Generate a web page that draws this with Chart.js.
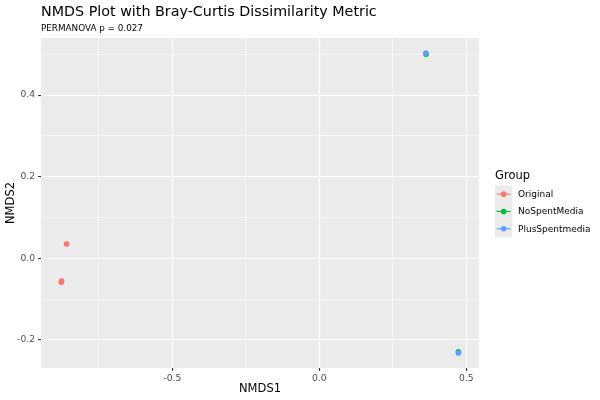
<!DOCTYPE html>
<html lang="en">
<head>
    <meta charset="UTF-8">
    <title>NMDS Plot</title>
    <script src="https://cdn.jsdelivr.net/npm/chart.js@4.4.0/dist/chart.umd.min.js"></script>
    <style>
      body { margin: 0; background: #fff; }
      .chart-container { position: relative; width: 600px; height: 400px; }
    </style>
    <script>
      // values
      const groups = ['Original', 'NoSpentMedia', 'PlusSpentmedia']
      const groupColors = ['#F8766D', '#00BA38', '#619CFF']
      const originalX = [-0.860, -0.877, -0.878]
      const originalY = [0.035, -0.056, -0.059]
      const noSpentX = [0.363, 0.473]
      const noSpentY = [0.500, -0.229]
      const plusSpentX = [0.362, 0.473]
      const plusSpentY = [0.503, -0.232]

      const xGrid = [-0.75, -0.5, -0.25, 0, 0.25, 0.5]
      const xLabels = [-0.5, 0, 0.5]
      const yGrid = [-0.2, -0.1, 0, 0.1, 0.2, 0.3, 0.4, 0.5]
      const yLabels = [-0.2, 0, 0.2, 0.4]

      const titleText = 'NMDS Plot with Bray-Curtis Dissimilarity Metric'
      const subtitleText = 'PERMANOVA p = 0.027'
      const xTitle = 'NMDS1'
      const yTitle = 'NMDS2'
      const legendTitle = 'Group'

      const FONT = '"DejaVu Sans", sans-serif'

      const isLabel = (list, v) => list.some(l => Math.abs(l - v) < 1e-9)

      const toPoints = (xs, ys) => xs.map((x, i) => ({ x: x, y: ys[i] }))

      window.onload = function() {
        const ctx = document.getElementById('chart').getContext('2d')

        const series = [
          toPoints(originalX, originalY),
          toPoints(noSpentX, noSpentY),
          toPoints(plusSpentX, plusSpentY)
        ]

        const datasets = groups.map((g, i) => ({
          label: g,
          data: series[i],
          backgroundColor: groupColors[i],
          borderWidth: 0,
          pointRadius: 2.8,
          order: groups.length - i
        }))

        // grey panel behind the points
        const panel = {
          id: 'panel',
          beforeDraw(chart) {
            const { ctx, chartArea: a } = chart
            ctx.save()
            ctx.fillStyle = '#fff'
            ctx.fillRect(0, 0, chart.width, chart.height)
            ctx.fillStyle = '#EBEBEB'
            ctx.fillRect(a.left, a.top, a.right - a.left, a.bottom - a.top)
            ctx.restore()
          }
        }

        // titles, axis titles and the ggplot-like legend
        const texts = {
          id: 'texts',
          afterDraw(chart) {
            const { ctx, chartArea: a } = chart
            ctx.save()
            ctx.fillStyle = '#000'
            ctx.textBaseline = 'alphabetic'
            ctx.textAlign = 'left'
            ctx.font = '14.3px ' + FONT
            ctx.fillText(titleText, a.left, 16)
            ctx.font = '8.8px ' + FONT
            ctx.fillText(subtitleText, a.left, 31)

            ctx.font = '11.5px ' + FONT
            ctx.textAlign = 'center'
            ctx.fillText(xTitle, (a.left + a.right) / 2, 392)
            ctx.save()
            ctx.translate(14, (a.top + a.bottom) / 2)
            ctx.rotate(-Math.PI / 2)
            ctx.fillText(yTitle, 0, 0)
            ctx.restore()

            // legend
            ctx.textAlign = 'left'
            ctx.font = '11.5px ' + FONT
            ctx.fillText(legendTitle, 495, 179)
            const keyX = 495, keyW = 17.3, keyTop = 185.5, rowH = 17.3
            ctx.fillStyle = '#EBEBEB'
            ctx.fillRect(keyX, keyTop, keyW, rowH * groups.length)
            ctx.font = '9px ' + FONT
            ctx.textBaseline = 'middle'
            groups.forEach((g, i) => {
              const cy = keyTop + rowH * i + rowH / 2
              ctx.strokeStyle = groupColors[i]
              ctx.lineWidth = 1.1
              ctx.beginPath()
              ctx.moveTo(keyX + 1.7, cy)
              ctx.lineTo(keyX + keyW - 1.7, cy)
              ctx.stroke()
              ctx.fillStyle = groupColors[i]
              ctx.beginPath()
              ctx.arc(keyX + keyW / 2, cy, 2.8, 0, Math.PI * 2)
              ctx.fill()
              ctx.fillStyle = '#000'
              ctx.fillText(g, 518, cy + 0.5)
            })
            ctx.restore()
          }
        }

        const gridWidth = (list) => (c) => isLabel(list, c.tick.value) ? 1.1 : 0.55
        const tickColor = (list) => (c) => isLabel(list, c.tick.value) ? '#333333' : 'rgba(0,0,0,0)'

        const nmdsChart = new Chart(ctx, {
          type: 'scatter',
          data: { datasets: datasets },
          plugins: [panel, texts],
          options: {
            responsive: true,
            maintainAspectRatio: false,
            animation: false,
            layout: { padding: { top: 38, right: 121, bottom: 0, left: 0 } },
            plugins: {
              legend: { display: false },
              title: { display: false },
              tooltip: { enabled: false }
            },
            scales: {
              x: {
                type: 'linear',
                min: -0.947,
                max: 0.543,
                afterBuildTicks: (scale) => { scale.ticks = xGrid.map(v => ({ value: v })) },
                afterFit: (scale) => { scale.height = 32 },
                border: { display: false },
                grid: {
                  color: '#FFFFFF',
                  lineWidth: gridWidth(xLabels),
                  tickColor: tickColor(xLabels),
                  tickLength: 3,
                  tickWidth: 1.1
                },
                ticks: {
                  color: '#4D4D4D',
                  font: { family: FONT, size: 9.2 },
                  padding: 2,
                  maxRotation: 0,
                  autoSkip: false,
                  callback: (v) => isLabel(xLabels, v) ? v.toFixed(1) : ''
                }
              },
              y: {
                type: 'linear',
                min: -0.269,
                max: 0.540,
                afterBuildTicks: (scale) => { scale.ticks = yGrid.map(v => ({ value: v })) },
                afterFit: (scale) => { scale.width = 41 },
                border: { display: false },
                grid: {
                  color: '#FFFFFF',
                  lineWidth: gridWidth(yLabels),
                  tickColor: tickColor(yLabels),
                  tickLength: 3,
                  tickWidth: 1.1
                },
                ticks: {
                  color: '#4D4D4D',
                  font: { family: FONT, size: 9.2 },
                  padding: 3,
                  autoSkip: false,
                  callback: (v) => isLabel(yLabels, v) ? v.toFixed(1) : ''
                }
              }
            }
          }
        })
      }
    </script>
</head>
<body>
<div class="chart-container">
    <canvas id="chart"></canvas>
</div>
</body>
</html>
